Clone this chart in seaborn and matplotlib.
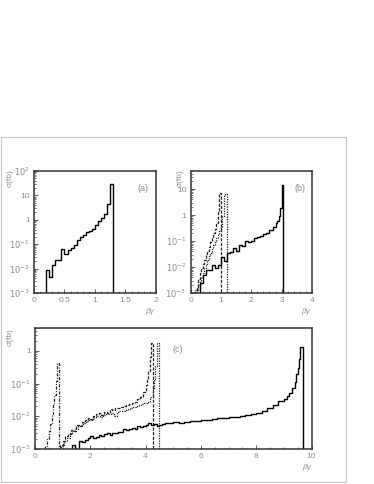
import numpy as np
import matplotlib
matplotlib.use("Agg")
import matplotlib.pyplot as plt
import seaborn as sns
from matplotlib.patches import Rectangle
from matplotlib.ticker import FixedLocator, FixedFormatter, MultipleLocator, NullFormatter, LogLocator

# ---- panel (a) ----
a_edges = [0.15, 0.2, 0.25, 0.3, 0.35, 0.4, 0.45, 0.5, 0.55, 0.6, 0.65, 0.7, 0.75,
           0.8, 0.85, 0.9, 0.95, 1.0, 1.05, 1.1, 1.15, 1.2, 1.25, 1.3, 1.35]
a_solid = [0, 0.0091, 0.0046, 0.0135, 0.022, 0.022, 0.066, 0.041, 0.056, 0.069, 0.089,
           0.144, 0.198, 0.23, 0.316, 0.347, 0.435, 0.63, 0.87, 1.18, 1.78, 4.6, 28, 0]

# ---- panel (b) ----
b_solid_edges = [0.2, 0.3, 0.4, 0.5, 0.6, 0.7, 0.8, 0.9, 1.0, 1.1, 1.2, 1.3, 1.4, 1.5,
                 1.6, 1.7, 1.8, 1.9, 2.0, 2.1, 2.2, 2.3, 2.4, 2.5, 2.6, 2.7, 2.8, 2.85,
                 2.9, 2.95, 3.0, 3.05, 3.15]
b_solid = [0, 0.0025, 0.0049, 0.0078, 0.0078, 0.012, 0.0095, 0.012, 0.024, 0.017, 0.035,
           0.038, 0.054, 0.042, 0.072, 0.066, 0.10, 0.095, 0.10, 0.13, 0.14, 0.155, 0.18,
           0.21, 0.27, 0.35, 0.5, 0.6, 0.9, 1.9, 15, 0]
b_dash_edges = [0.15, 0.2, 0.25, 0.3, 0.35, 0.4, 0.45, 0.5, 0.55, 0.6, 0.65, 0.7, 0.75,
                0.8, 0.85, 0.9, 0.95, 1.0, 1.05]
b_dash = [0, 0.0015, 0.0035, 0.006, 0.009, 0.013, 0.019, 0.028, 0.042, 0.06, 0.09, 0.14,
          0.2, 0.3, 0.5, 1.4, 7.4, 0]
b_dot_edges = [0.1, 0.15, 0.25, 0.3, 0.35, 0.4, 0.45, 0.5, 0.55, 0.6, 0.65, 0.7, 0.75,
               0.8, 0.85, 0.9, 0.95, 1.0, 1.05, 1.1, 1.15, 1.2, 1.25]
b_dot = [0, 0.0013, 0.002, 0.003, 0.004, 0.006, 0.009, 0.012, 0.018, 0.026, 0.035, 0.05,
         0.07, 0.095, 0.13, 0.18, 0.25, 0.36, 0.9, 6.0, 6.3, 0]

# ---- panel (c) ----
c_dd_edges = [0.3, 0.35, 0.45, 0.5, 0.55, 0.6, 0.65, 0.7, 0.75, 0.8, 0.85, 0.9]
c_dd = [0, 0.0012, 0.002, 0.0035, 0.006, 0.011, 0.022, 0.045, 0.12, 0.43, 0]

c_dash_edges = [0.8, 0.9, 1.0, 1.1, 1.2, 1.3, 1.4, 1.5, 1.6, 1.7, 1.8, 1.9, 2.0, 2.1,
                2.2, 2.3, 2.4, 2.5, 2.6, 2.7, 2.8, 2.9, 3.0, 3.1, 3.2, 3.3, 3.4, 3.5,
                3.6, 3.7, 3.8, 3.9, 4.0, 4.05, 4.1, 4.15, 4.2, 4.28, 4.38]
c_dash = [0, 0.0013, 0.0018, 0.0025, 0.0028, 0.0038, 0.0035, 0.0054, 0.005, 0.0066,
          0.0076, 0.0087, 0.008, 0.01, 0.012, 0.013, 0.011, 0.014, 0.013, 0.0166, 0.016,
          0.018, 0.0174, 0.019, 0.02, 0.022, 0.0235, 0.026, 0.028, 0.033, 0.04, 0.056,
          0.09, 0.14, 0.25, 0.63, 1.7, 0]

c_dot_edges = [0.85, 0.95, 1.05, 1.15, 1.25, 1.35, 1.45, 1.55, 1.65, 1.75, 1.85, 1.95,
               2.05, 2.15, 2.25, 2.35, 2.45, 2.55, 2.65, 2.75, 2.85, 2.95, 3.05, 3.15,
               3.25, 3.35, 3.45, 3.55, 3.65, 3.75, 3.85, 3.95, 4.05, 4.15, 4.25, 4.3,
               4.35, 4.4, 4.5, 4.6]
c_dot = [0, 0.0012, 0.0018, 0.0022, 0.003, 0.0035, 0.0042, 0.005, 0.0055, 0.0062, 0.0072,
         0.0078, 0.0085, 0.0095, 0.0105, 0.0098, 0.011, 0.012, 0.0115, 0.013, 0.0105,
         0.014, 0.0145, 0.015, 0.016, 0.017, 0.018, 0.019, 0.02, 0.022, 0.023, 0.025,
         0.028, 0.04, 0.07, 0.14, 0.35, 1.7, 0]

c_solid_edges = [1.25, 1.35, 1.45, 1.6, 1.7, 1.8, 1.9, 2.0, 2.1, 2.2, 2.3, 2.4, 2.5, 2.6,
                 2.7, 2.8, 2.9, 3.0, 3.1, 3.2, 3.3, 3.4, 3.5, 3.6, 3.7, 3.8, 3.9, 4.0,
                 4.1, 4.2, 4.3, 4.4, 4.5, 4.6, 4.7, 4.8, 4.9, 5.0, 5.2, 5.4, 5.6, 5.8,
                 6.0, 6.2, 6.4, 6.6, 6.8, 7.0, 7.2, 7.4, 7.6, 7.8, 8.0, 8.2, 8.4, 8.6,
                 8.8, 9.0, 9.1, 9.2, 9.3, 9.4, 9.45, 9.5, 9.55, 9.6, 9.7, 9.8]
c_solid = [0, 0.0013, 0, 0.0018, 0.0016, 0.0019, 0.0022, 0.0025, 0.0021, 0.0024, 0.0026,
           0.0025, 0.0028, 0.003, 0.0027, 0.0031, 0.003, 0.0034, 0.0032, 0.0042, 0.0038,
           0.0042, 0.0044, 0.004, 0.0049, 0.0046, 0.0052, 0.0056, 0.0062, 0.0055, 0.0058,
           0.0052, 0.0056, 0.0059, 0.0061, 0.0063, 0.0062,
           0.0066, 0.0064, 0.0068, 0.0070, 0.0071, 0.0075, 0.0077, 0.0080, 0.0086, 0.0088,
           0.0092, 0.0097, 0.0102, 0.0110, 0.0118, 0.0130, 0.0150, 0.0178, 0.0225, 0.029,
           0.034, 0.042, 0.052, 0.075, 0.11, 0.2, 0.3, 0.55, 1.27, 0]

txt = "#8c8c8c"
sns.set_style("ticks")
plt.rcParams["font.family"] = ["Liberation Sans", "DejaVu Sans"]
plt.rcParams["mathtext.fontset"] = "dejavusans"

fig = plt.figure(figsize=(3.74, 4.84), dpi=100)
fig.add_artist(Rectangle((0.003, 0.004), 0.922, 0.713, transform=fig.transFigure,
                         fill=False, edgecolor="#c4c4c4", linewidth=0.8))


def hist(ax, edges, vals, ls="-", lw=1.0, color="black"):
    mids = [(lo + hi) / 2 for lo, hi in zip(edges[:-1], edges[1:])]
    sns.histplot(x=mids, weights=vals, bins=list(edges), element="step", fill=False,
                 color=color, linewidth=lw, linestyle=ls, ax=ax)


def style(ax, xlim, xmaj, xmin, ylim, decades, labels):
    ax.set_yscale("log")
    ax.set_xlim(*xlim)
    ax.set_ylim(*ylim)
    ax.xaxis.set_major_locator(MultipleLocator(xmaj))
    ax.xaxis.set_minor_locator(MultipleLocator(xmin))
    ax.xaxis.set_major_formatter(plt.FuncFormatter(lambda v, p: f"{v:g}"))
    ax.yaxis.set_major_locator(FixedLocator(decades))
    ax.yaxis.set_major_formatter(FixedFormatter(labels))
    ax.yaxis.set_minor_locator(LogLocator(base=10, subs=np.arange(2, 10)))
    ax.yaxis.set_minor_formatter(NullFormatter())
    ax.tick_params(which="major", direction="in", length=3, width=0.6, color="#444",
                   labelsize=6, labelcolor=txt, pad=3)
    ax.tick_params(which="minor", direction="in", length=1.5, width=0.5, color="#444")
    ax.set_xlabel("")
    ax.set_ylabel("")
    for s in ax.spines.values():
        s.set_color("#333")
        s.set_linewidth(1.1)


dec_labels = {1e-3: r"$10^{-3}$", 1e-2: r"$10^{-2}$", 1e-1: r"$10^{-1}$",
              1: "1", 10: "10", 100: r"$10^{2}$"}

# (a)
ax_a = fig.add_axes([0.0909, 0.3946, 0.3262, 0.2521])
hist(ax_a, a_edges, a_solid)
dec = [1e-3, 1e-2, 1e-1, 1, 10, 100]
style(ax_a, (0, 2), 0.5, 0.1, (1e-3, 100), dec, [dec_labels[d] for d in dec])
ax_a.text(0.893, 0.86, "(a)", transform=ax_a.transAxes, fontsize=6.5, color=txt,
          ha="center", va="center")

# (b)
ax_b = fig.add_axes([0.5094, 0.3946, 0.3249, 0.2521])
hist(ax_b, b_dot_edges, b_dot, ls=(0, (1, 1)), lw=0.9, color="#222")
hist(ax_b, b_dash_edges, b_dash, ls=(0, (2.5, 1.2)), lw=0.9, color="#222")
hist(ax_b, b_solid_edges, b_solid)
dec = [1e-3, 1e-2, 1e-1, 1, 10]
style(ax_b, (0, 4), 1, 0.2, (1e-3, 50), dec, [dec_labels[d] for d in dec])
ax_b.text(0.9, 0.86, "(b)", transform=ax_b.transAxes, fontsize=6.5, color=txt,
          ha="center", va="center")

# (c)
ax_c = fig.add_axes([0.0936, 0.0723, 0.7393, 0.2500])
hist(ax_c, c_dd_edges, c_dd, ls=(0, (2.5, 1.2, 0.8, 1.2)), lw=0.9, color="#222")
hist(ax_c, c_dot_edges, c_dot, ls=(0, (1, 1)), lw=0.9, color="#222")
hist(ax_c, c_dash_edges, c_dash, ls=(0, (2.5, 1.2)), lw=0.9, color="#222")
hist(ax_c, c_solid_edges, c_solid)
dec = [1e-3, 1e-2, 1e-1, 1]
style(ax_c, (0, 10), 2, 0.5, (1e-3, 5), dec, [dec_labels[d] for d in dec])
ax_c.text(0.516, 0.82, "(c)", transform=ax_c.transAxes, fontsize=6.5, color=txt,
          ha="center", va="center")

# axis titles
for x, y in [(0.0267, 0.6322), (0.4813, 0.6322), (0.0267, 0.3037)]:
    fig.text(x, y, "σ(fb)", rotation=90, fontsize=6, color=txt, ha="center", va="center")
for x, y in [(0.401, 0.3574), (0.818, 0.3554), (0.821, 0.0351)]:
    fig.text(x, y, "βγ", fontsize=6, color=txt, ha="center", va="center", style="italic")

fig.savefig("out.png", dpi=100)
